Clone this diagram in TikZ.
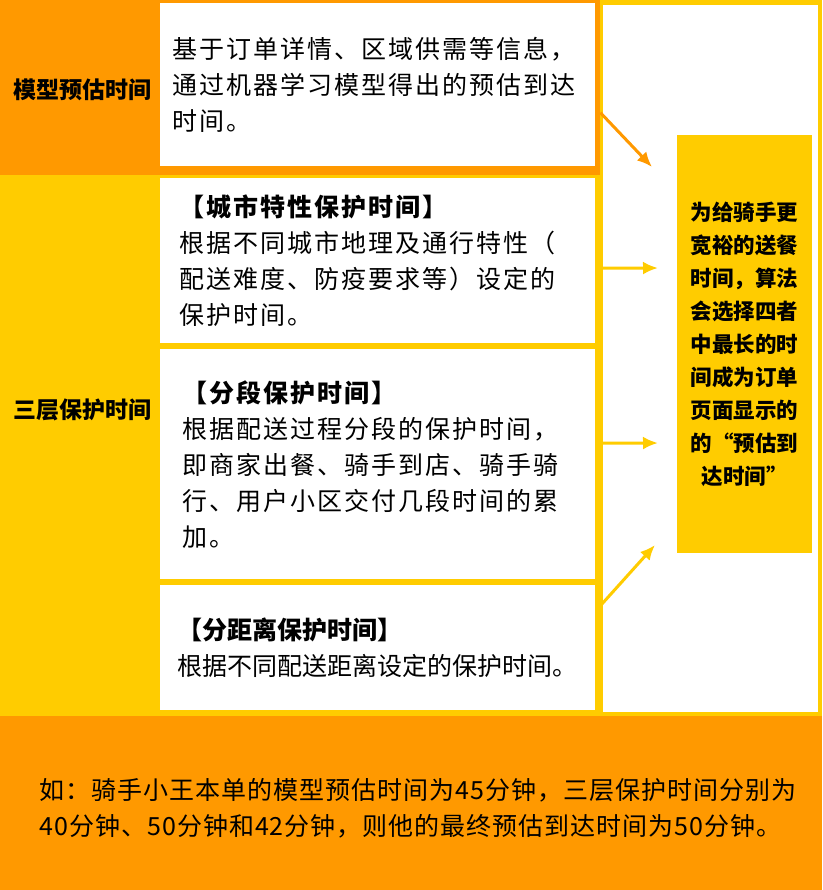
\documentclass[tikz,border=0pt]{standalone}
\usepackage{fontspec}
\setmainfont{Noto Sans CJK SC}
\usetikzlibrary{positioning,calc,arrows.meta}
\definecolor{deeporange}{RGB}{255,153,0}
\definecolor{goldyellow}{RGB}{255,204,0}

\begin{document}
\begin{tikzpicture}[x=1pt, y=-1pt, lab/.style={font=\fontsize{23}{28}\selectfont\bfseries}, info/.style={rectangle, fill=white, anchor=north west, minimum width=435pt, text width=411pt, inner xsep=12pt, align=left, font=\fontsize{25}{36}\selectfont\addfontfeature{LetterSpace=8}}, result/.style={rectangle, fill=goldyellow, anchor=north west, minimum width=135pt, minimum height=418pt, align=center, font=\fontsize{21.5}{33}\selectfont\bfseries}, n/.style={-{Latex[length=15pt, width=13pt]}, line width=3pt}]
            % background
            \useasboundingbox (0,0) rectangle (822,890);
            \fill[goldyellow] (0,0) rectangle (822,890);
            \fill[deeporange] (0,0) rectangle (600,175);
            \fill[deeporange] (0,716) rectangle (822,890);
            \fill[white] (603,5) rectangle (818,712);
            % nodes
            \node[lab] (model) at (82,90) {模型预估时间};
            \node[lab] (layer) at (82,410) {三层保护时间};
            \node[info, minimum height=163pt] (box1) at (160,3) {基于订单详情、区域供需等信息，\\通过机器学习模型得出的预估到达\\时间。};
            \node[info, minimum height=165pt, inner xsep=19pt, text width=397pt] (box2) at (160,178) {\textbf{【城市特性保护时间】}\\根据不同城市地理及通行特性（\\配送难度、防疫要求等）设定的\\保护时间。};
            \node[info, minimum height=230pt, inner xsep=22pt, text width=391pt] (box3) at (160,349) {\textbf{【分段保护时间】}\\根据配送过程分段的保护时间，\\即商家出餐、骑手到店、骑手骑\\行、用户小区交付几段时间的累\\加。};
            \node[info, minimum height=125pt, inner xsep=17pt, text width=401pt, font=\fontsize{25}{36}\selectfont] (box4) at (160,585) {\textbf{【分距离保护时间】}\\根据不同配送距离设定的保护时间。};
            \node[result] (res) at (677,135) {为给骑手更\\宽裕的送餐\\时间，算法\\会选择四者\\中最长的时\\间成为订单\\页面显示的\\的“预估到\\达时间”};
            \node[anchor=west, align=left, font=\fontsize{25}{36}\selectfont\addfontfeature{LetterSpace=4}] (example) at (36,808) {如：骑手小王本单的模型预估时间为45分钟，三层保护时间分别为\\40分钟、50分钟和42分钟，则他的最终预估到达时间为50分钟。};
            % edges
            \coordinate (t1) at (652,167);
            \coordinate (t2) at (658,268);
            \coordinate (t3) at (658,443);
            \coordinate (t4) at (655,545);
            \draw [n, deeporange] ($(box1.east)+(5,28)$) -- (t1);
            \draw [n, goldyellow] ($(box2.east)+(5,7.5)$) -- (t2);
            \draw [n, goldyellow] ($(box3.east)+(5,-21)$) -- (t3);
            \draw [n, goldyellow] ($(box4.east)+(5,-42)$) -- (t4);
        \end{tikzpicture}
\end{document}
